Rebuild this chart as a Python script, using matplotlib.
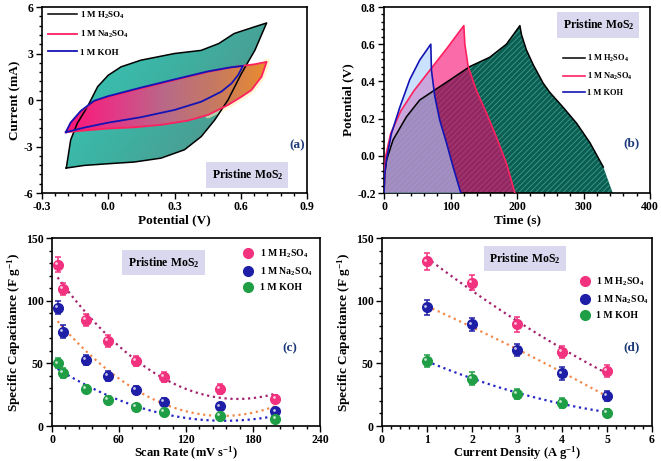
# -*- coding: utf-8 -*-
"""Pristine MoS2 electrochemistry: CV, GCD and specific capacitance panels
"""
import matplotlib
matplotlib.use('Agg')
import matplotlib.pyplot as plt
import matplotlib.transforms as mtransforms
import numpy as np
from matplotlib.colors import LinearSegmentedColormap
from matplotlib.ticker import AutoMinorLocator, MultipleLocator, FormatStrFormatter

plt.rcParams['font.family'] = ['Liberation Serif', 'DejaVu Serif']
plt.rcParams['font.weight'] = 'bold'
plt.rcParams['axes.labelweight'] = 'bold'
plt.rcParams['axes.unicode_minus'] = False
plt.rcParams['mathtext.fontset'] = 'custom'
plt.rcParams['mathtext.rm'] = 'Liberation Serif:bold'
plt.rcParams['mathtext.it'] = 'Liberation Serif:bold'
plt.rcParams['mathtext.bf'] = 'Liberation Serif:bold'
plt.rcParams['hatch.linewidth'] = 0.6

# ---------------- data ----------------
labels = ['1 M H$_2$SO$_4$', '1 M Na$_2$SO$_4$', '1 M KOH']

# (a) cyclic voltammetry, forward (upper) and reverse (lower) branches
cv_h_fwd_v = [-0.19, -0.17, -0.14, -0.094, -0.048, 0.0, 0.058, 0.148, 0.30, 0.42, 0.50, 0.57, 0.66, 0.717]
cv_h_fwd_i = [-4.39, -2.57, -1.5, -0.43, 0.86, 1.6, 2.14, 2.57, 3.0, 3.2, 3.64, 4.29, 4.71, 4.97]
cv_h_rev_v = [0.717, 0.664, 0.603, 0.542, 0.482, 0.421, 0.345, 0.239, 0.118, 0.0, -0.109, -0.19]
cv_h_rev_i = [4.97, 3.21, 1.71, 0.0, -1.29, -2.36, -3.21, -3.75, -4.0, -4.11, -4.22, -4.39]

cv_na_fwd_v = [-0.192, -0.17, -0.124, -0.064, 0.0, 0.148, 0.30, 0.452, 0.573, 0.664, 0.717]
cv_na_fwd_i = [-2.08, -1.5, -0.75, -0.11, 0.21, 0.75, 1.29, 1.82, 2.14, 2.31, 2.46]
cv_na_rev_v = [0.717, 0.694, 0.648, 0.603, 0.542, 0.452, 0.36, 0.24, 0.118, 0.0, -0.109, -0.192]
cv_na_rev_i = [2.46, 1.5, 0.64, 0.21, -0.32, -0.96, -1.33, -1.6, -1.76, -1.84, -1.97, -2.08]

cv_koh_fwd_v = [-0.192, -0.17, -0.124, -0.064, 0.0, 0.148, 0.30, 0.452, 0.55, 0.61]
cv_koh_fwd_i = [-2.08, -1.45, -0.7, -0.05, 0.25, 0.8, 1.33, 1.85, 2.1, 2.2]
cv_koh_rev_v = [0.61, 0.588, 0.558, 0.512, 0.421, 0.30, 0.148, 0.0, -0.109, -0.192]
cv_koh_rev_i = [2.2, 1.61, 1.07, 0.54, -0.11, -0.64, -1.11, -1.46, -1.78, -2.08]

# (b) galvanostatic charge / discharge
gcd_h_t = [0, 1, 4, 13.6, 33.7, 53.7, 76.3, 100, 129, 159, 184, 204.3,
           206.8, 214, 224.3, 239.4, 249.5, 269.5, 289.6, 309.7, 329.7, 343.9]
gcd_h_v = [-0.2, -0.1, -0.02, 0.086, 0.21, 0.30, 0.354, 0.41, 0.48, 0.53, 0.60, 0.70,
           0.65, 0.57, 0.49, 0.39, 0.34, 0.26, 0.175, 0.07, -0.06, -0.2]
gcd_na_t = [0, 1, 2.5, 10, 25, 45, 71, 95, 120,
            121.5, 126.5, 139, 154, 169, 184, 196.8]
gcd_na_v = [-0.2, -0.08, 0.0, 0.12, 0.24, 0.35, 0.47, 0.58, 0.70,
            0.60, 0.48, 0.35, 0.23, 0.10, -0.04, -0.2]
gcd_koh_t = [0, 1, 3.6, 11.1, 23.6, 38.7, 53.7, 70.3,
             71.3, 76.3, 83.9, 93.9, 103.9, 115.5]
gcd_koh_v = [-0.2, -0.1, -0.02, 0.12, 0.26, 0.41, 0.515, 0.60,
             0.46, 0.32, 0.19, 0.07, -0.06, -0.2]

# (c) specific capacitance vs scan rate
scan_rate = [5, 10, 30, 50, 75, 100, 150, 200]
sc_h = [128.6, 109.2, 84.6, 67.8, 51.8, 39.3, 29.9, 21.9]
sc_na = [94.5, 75.3, 52.6, 40.0, 28.6, 19.2, 15.7, 11.7]
sc_koh = [49.9, 42.4, 29.9, 21.1, 15.2, 11.2, 8.0, 5.9]
sc_h_err = [6, 5, 5, 5, 4, 4, 4, 3]
sc_na_err = [5, 5, 4, 4, 3, 3, 2, 2]
sc_koh_err = [4, 4, 3, 3, 2, 2, 2, 2]

# (d) specific capacitance vs current density
cur_density = [1, 2, 3, 4, 5]
cd_h = [131.3, 114.5, 81.1, 59.0, 43.8]
cd_na = [94.7, 81.1, 60.5, 41.9, 24.3]
cd_koh = [51.8, 37.9, 25.9, 18.7, 10.7]
cd_h_err = [7, 6, 6, 5, 5]
cd_na_err = [6, 5, 5, 5, 4]
cd_koh_err = [5, 5, 4, 4, 3]

navy = '#1c3a78'
box_color = '#d9d8ee'
red_line = '#ff2060'
blue_line = '#1414b4'
dot_colors = ['#f2317f', '#1e1ea6', '#1f9e45']
fit_colors = ['#a3206c', '#f2894a', '#2424c4']


def style_ax(ax):
    ax.tick_params(which='both', direction='out', top=False, right=False,
                   labelsize=8.5, width=1.0, pad=2)
    ax.tick_params(which='major', length=4)
    ax.tick_params(which='minor', length=2)
    ax.xaxis.set_minor_locator(AutoMinorLocator(5))
    ax.yaxis.set_minor_locator(AutoMinorLocator(5))
    for s in ax.spines.values():
        s.set_linewidth(1.2)


def tag(ax, x, y, s):
    ax.text(x, y, s, transform=ax.transAxes, fontsize=9.5, color=navy,
            ha='center', va='center')


def mos2_box(ax, x, y):
    ax.text(x, y, 'Pristine MoS$_2$', transform=ax.transAxes, fontsize=8.5,
            ha='center', va='center', zorder=10,
            bbox=dict(boxstyle='square,pad=0.45', fc=box_color, ec='none'))


def gradient_fill(ax, xs, ys, cmap, extent, zorder, diagonal=False):
    poly, = ax.fill(xs, ys, facecolor='none', edgecolor='none', zorder=zorder)
    gx, gy = np.meshgrid(np.linspace(0, 1, 200), np.linspace(0, 1, 200))
    z = 0.65 * gx + 0.35 * (1 - gy) if diagonal else gx
    img = ax.imshow(z, cmap=cmap, extent=extent, origin='lower',
                    aspect='auto', zorder=zorder, interpolation='bilinear')
    img.set_clip_path(poly)


fig = plt.figure(figsize=(6.61, 4.61), dpi=100)

# =================== (a) CV ===================
ax = fig.add_axes([0.0635, 0.5813, 0.401, 0.4035])
teal_cmap = LinearSegmentedColormap.from_list('teal', ['#33ccbc', '#3fae9f', '#5b8984'])
pink_cmap = LinearSegmentedColormap.from_list('pink', ['#ff1478', '#e23a86', '#b86a88', '#c77a60', '#eb8c2c'])

h_v = cv_h_fwd_v + cv_h_rev_v
h_i = cv_h_fwd_i + cv_h_rev_i
na_v = cv_na_fwd_v + cv_na_rev_v
na_i = cv_na_fwd_i + cv_na_rev_i
gradient_fill(ax, h_v, h_i, teal_cmap, [-0.2, 0.72, -4.5, 5.0], 1, diagonal=True)
gradient_fill(ax, na_v, na_i, pink_cmap, [-0.2, 0.72, -2.2, 2.5], 2)
ax.plot(cv_na_rev_v[:6], cv_na_rev_i[:6], color='#fff3b8', lw=5, alpha=0.6,
        zorder=1.5, solid_capstyle='round')
l1, = ax.plot(h_v, h_i, color='k', lw=1.1, zorder=3)
l2, = ax.plot(na_v, na_i, color=red_line, lw=1.3, zorder=3)
l3, = ax.plot(cv_koh_fwd_v + cv_koh_rev_v, cv_koh_fwd_i + cv_koh_rev_i,
              color=blue_line, lw=1.3, zorder=4)
ax.set_xlim(-0.3, 0.9)
ax.set_ylim(-6, 6)
ax.xaxis.set_major_locator(MultipleLocator(0.3))
ax.yaxis.set_major_locator(MultipleLocator(3))
ax.xaxis.set_major_formatter(FormatStrFormatter('%.1f'))
ax.set_xlabel('Potential (V)', fontsize=9.5, labelpad=1)
ax.set_ylabel('Current (mA)', fontsize=9.5, labelpad=2)
style_ax(ax)
ax.legend([l1, l2, l3], labels, loc='upper left', bbox_to_anchor=(0.0, 1.02),
          frameon=False, fontsize=6.5, handlelength=3.2, handletextpad=0.3,
          labelspacing=0.9, borderaxespad=0.3)
tag(ax, 0.963, 0.258, '(a)')
mos2_box(ax, 0.775, 0.097)

# =================== (b) GCD ===================
ax = fig.add_axes([0.581, 0.5813, 0.4024, 0.4035])
ax.fill(gcd_h_t, gcd_h_v, facecolor='#0b5e52', edgecolor='none', zorder=1)
ax.fill(gcd_h_t, gcd_h_v, facecolor='none', edgecolor='#3f9a8c', lw=0,
        hatch='//////', zorder=1.1)
ax.fill(gcd_na_t, gcd_na_v, facecolor='#f6006c', alpha=0.58, edgecolor='none', zorder=2)
ax.fill(gcd_koh_t, gcd_koh_v, facecolor='#a9cfff', alpha=0.6, edgecolor='none', zorder=3)
l1, = ax.plot(gcd_h_t[:-1], gcd_h_v[:-1], color='k', lw=1.1, zorder=4)
l2, = ax.plot(gcd_na_t, gcd_na_v, color=red_line, lw=1.2, zorder=4)
l3, = ax.plot(gcd_koh_t, gcd_koh_v, color=blue_line, lw=1.2, zorder=5)
ax.set_xlim(0, 400)
ax.set_ylim(-0.2, 0.8)
ax.xaxis.set_major_locator(MultipleLocator(100))
ax.yaxis.set_major_locator(MultipleLocator(0.2))
ax.set_xlabel('Time (s)', fontsize=9.5, labelpad=1)
ax.set_ylabel('Potential (V)', fontsize=9.5, labelpad=2)
style_ax(ax)
ax.legend([l1, l2, l3], labels, loc='upper left', bbox_to_anchor=(0.66, 0.77),
          frameon=False, fontsize=6, handlelength=2.6, handletextpad=0.3,
          labelspacing=0.8, borderaxespad=0.0)
tag(ax, 0.932, 0.269, '(b)')
mos2_box(ax, 0.806, 0.903)


# =================== (c) & (d) capacitance ===================
def cap_panel(rect, xs, series, errs, xlim, xstep, xlabel, letter, tag_xy, box_xy, leg_anchor):
    ax = fig.add_axes(rect)
    hl = mtransforms.offset_copy(ax.transData, fig=fig, x=-1.3, y=1.3, units='points')
    xfit = np.linspace(min(xs), max(xs), 100)
    handles = []
    for ys, es, dc, fc in zip(series, errs, dot_colors, fit_colors):
        coef = np.polyfit(xs, ys, 2)
        ax.plot(xfit, np.polyval(coef, xfit), color=fc, ls=':', lw=1.6, zorder=2)
        ax.errorbar(xs, ys, yerr=es, fmt='none', ecolor=dc, elinewidth=1.1,
                    capsize=2, capthick=1.1, zorder=3)
        h, = ax.plot(xs, ys, 'o', ms=7, color=dc, mec=dc, zorder=4)
        ax.plot(xs, ys, 'o', ms=2, color='white', mec='none', alpha=0.75,
                transform=hl, zorder=5)
        handles.append(h)
    ax.set_xlim(*xlim)
    ax.set_ylim(0, 150)
    ax.xaxis.set_major_locator(MultipleLocator(xstep))
    ax.yaxis.set_major_locator(MultipleLocator(50))
    ax.set_xlabel(xlabel, fontsize=9)
    ax.xaxis.set_label_coords(0.5, -0.1)
    ax.set_ylabel('Specific Capacitance (F g$^{-1}$)', fontsize=9.5, labelpad=2)
    style_ax(ax)
    ax.legend(handles, labels, loc='upper left', bbox_to_anchor=leg_anchor,
              frameon=False, fontsize=7, handletextpad=0.2, labelspacing=0.55,
              borderaxespad=0.0, markerscale=1.0)
    tag(ax, tag_xy[0], tag_xy[1], letter)
    mos2_box(ax, box_xy[0], box_xy[1])
    return ax


cap_panel([0.0787, 0.0759, 0.4054, 0.4078], scan_rate, [sc_h, sc_na, sc_koh],
          [sc_h_err, sc_na_err, sc_koh_err], (0, 240), 60,
          'Scan Rate (mV s$^{-1}$)', '(c)', (0.888, 0.415), (0.416, 0.87), (0.68, 0.97))
cap_panel([0.5779, 0.0759, 0.4085, 0.4078], cur_density, [cd_h, cd_na, cd_koh],
          [cd_h_err, cd_na_err, cd_koh_err], (0, 6), 1,
          'Current Density (A g$^{-1}$)', '(d)', (0.926, 0.42), (0.53, 0.89), (0.70, 0.82))

fig.savefig('out.png', dpi=100)
